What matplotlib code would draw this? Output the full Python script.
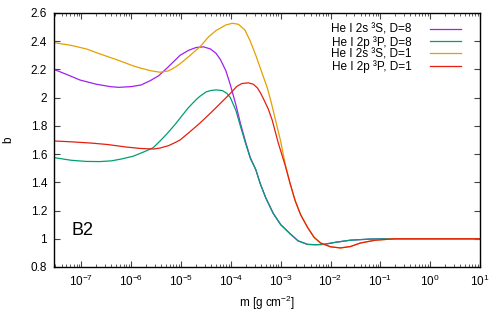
import numpy as np
import matplotlib
matplotlib.use('Agg')
import matplotlib.pyplot as plt
from matplotlib.ticker import LogLocator, FixedLocator, NullFormatter

plt.rcParams['font.family'] = ['Liberation Sans', 'DejaVu Sans']
plt.rcParams['mathtext.fontset'] = 'custom'
plt.rcParams['mathtext.rm'] = 'Liberation Sans'
plt.rcParams['mathtext.it'] = 'Liberation Sans'

# =========================
# Datos (log10 m, b)
# =========================
logm_2s_D8 = [-7.55, -7.3, -7.03, -6.7, -6.42, -6.25, -6.0, -5.8, -5.62, -5.45,
              -5.28, -5.15, -5.02, -4.85, -4.7, -4.55, -4.41, -4.3, -4.21, -4.1,
              -4.01, -3.9, -3.81, -3.7, -3.61, -3.5, -3.41, -3.3, -3.15, -3.0,
              -2.81, -2.65, -2.46, -2.3, -2.14, -1.9, -1.6, -1.2, -0.7, 1.0]
b_2s_D8 = [2.20, 2.165, 2.125, 2.095, 2.078, 2.073, 2.078, 2.09, 2.12, 2.155,
           2.21, 2.255, 2.30, 2.335, 2.355, 2.36, 2.345, 2.315, 2.27, 2.19,
           2.09, 1.95, 1.82, 1.68, 1.575, 1.49, 1.39, 1.29, 1.18, 1.10,
           1.035, 0.985, 0.96, 0.958, 0.96, 0.975, 0.99, 0.998, 1.0, 1.0]

logm_2p_D8 = [-7.55, -7.2, -6.9, -6.63, -6.4, -6.2, -5.96, -5.75, -5.56, -5.42,
              -5.28, -5.12, -5.02, -4.85, -4.7, -4.62, -4.5, -4.41, -4.3, -4.17,
              -4.08, -4.01, -3.9, -3.81, -3.7, -3.61, -3.5, -3.41, -3.3, -3.15,
              -3.0, -2.81, -2.65, -2.46, -2.3, -2.14, -1.9, -1.6, -1.2, -0.7, 1.0]
b_2p_D8 = [1.575, 1.556, 1.548, 1.547, 1.552, 1.565, 1.585, 1.615, 1.645, 1.693,
           1.745, 1.81, 1.855, 1.93, 1.985, 2.01, 2.04, 2.05, 2.055, 2.05,
           2.03, 2.0, 1.91, 1.80, 1.67, 1.57, 1.49, 1.39, 1.29, 1.18,
           1.10, 1.035, 0.985, 0.96, 0.958, 0.96, 0.975, 0.99, 0.998, 1.0, 1.0]

logm_2s_D1 = [-7.55, -7.2, -6.9, -6.63, -6.3, -5.96, -5.82, -5.6, -5.42, -5.25,
              -5.12, -5.02, -4.85, -4.62, -4.45, -4.3, -4.1, -3.97, -3.85, -3.72,
              -3.61, -3.5, -3.4, -3.27, -3.2, -3.11, -3.0, -2.91, -2.81, -2.71,
              -2.6, -2.46, -2.33, -2.2, -2.0, -1.8, -1.6, -1.4, -1.1, -0.7, 1.0]
b_2s_D1 = [2.39, 2.37, 2.345, 2.31, 2.27, 2.225, 2.21, 2.19, 2.18, 2.19,
           2.215, 2.24, 2.29, 2.36, 2.43, 2.475, 2.515, 2.527, 2.52, 2.48,
           2.40, 2.30, 2.20, 2.07, 1.98, 1.85, 1.69, 1.53, 1.39, 1.27,
           1.17, 1.08, 1.01, 0.97, 0.943, 0.935, 0.945, 0.97, 0.99, 1.0, 1.0]

logm_2p_D1 = [-7.55, -7.2, -6.8, -6.48, -6.1, -5.82, -5.55, -5.42, -5.25, -5.1,
              -5.02, -4.85, -4.62, -4.41, -4.21, -4.01, -3.88, -3.78, -3.65, -3.55,
              -3.47, -3.4, -3.33, -3.25, -3.17, -3.05, -2.91, -2.81, -2.71, -2.6,
              -2.46, -2.33, -2.2, -2.0, -1.8, -1.6, -1.4, -1.1, -0.7, 1.0]
b_2p_D1 = [1.693, 1.687, 1.678, 1.668, 1.65, 1.64, 1.636, 1.643, 1.66, 1.685,
           1.70, 1.75, 1.82, 1.89, 1.96, 2.03, 2.08, 2.10, 2.105, 2.095,
           2.07, 2.03, 1.98, 1.92, 1.84, 1.68, 1.52, 1.39, 1.27, 1.17,
           1.08, 1.01, 0.97, 0.943, 0.935, 0.945, 0.97, 0.99, 1.0, 1.0]

series = [
    (logm_2s_D8, b_2s_D8, 'He I 2s \u00b3S, D=8', '#a020f0'),
    (logm_2p_D8, b_2p_D8, 'He I 2p \u00b3P, D=8', '#009e73'),
    (logm_2s_D1, b_2s_D1, 'He I 2s \u00b3S, D=1', '#e69f00'),
    (logm_2p_D1, b_2p_D1, 'He I 2p \u00b3P, D=1', '#e51e10'),
]

# =========================
# Figura
# =========================
fig = plt.figure(figsize=(5.0, 3.14), dpi=100)
ax = fig.add_axes([0.108, 0.1497, 0.852, 0.809])

for lm, b, lab, col in series:
    ax.plot(10**np.array(lm), b, color=col, lw=0.9, label=lab)

ax.set_xscale('log')
ax.set_xlim(10**-7.55, 10)
ax.set_ylim(0.8, 2.6)

ax.xaxis.set_major_locator(FixedLocator([10.0**k for k in range(-7, 2)]))
ax.xaxis.set_minor_locator(LogLocator(base=10, subs=np.arange(2, 10), numticks=20))
ax.xaxis.set_minor_formatter(NullFormatter())
yt = [0.8, 1.0, 1.2, 1.4, 1.6, 1.8, 2.0, 2.2, 2.4, 2.6]
ax.set_yticks(yt)
ax.set_yticklabels(['0.8', '1', '1.2', '1.4', '1.6', '1.8', '2', '2.2', '2.4', '2.6'])

ax.tick_params(which='both', direction='in', top=True, right=True,
               labelsize=8.5, color='#444444', pad=5)
ax.tick_params(which='major', length=4.5, width=0.8)
ax.tick_params(which='minor', length=2.5, width=0.6)
for s in ax.spines.values():
    s.set_linewidth(1.0)

ax.set_xlabel('m [g cm$^{-2}$]', fontsize=8.5, labelpad=3)
ax.set_ylabel('b', fontsize=8.5, labelpad=12)

ax.text(10**-7.2, 1.03, 'B2', fontsize=13)

ax.legend(loc='upper right', frameon=False, fontsize=8.5, markerfirst=False,
          handlelength=2.6, handletextpad=1.6, labelspacing=0.0,
          borderaxespad=0.3, bbox_to_anchor=(0.975, 0.99))

fig.savefig('out.png', dpi=100)
